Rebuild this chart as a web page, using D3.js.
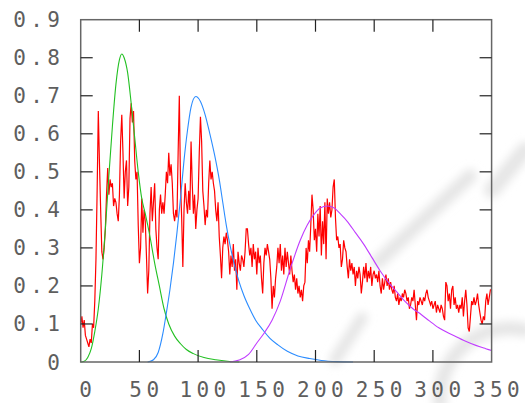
<!DOCTYPE html>
<html>
<head>
<meta charset="utf-8">
<script src="https://cdn.jsdelivr.net/npm/d3@7"></script>
<style>
  body { margin: 0; background: white; }
  .tick-label { font-family: "DejaVu Sans Mono", monospace; font-size: 21px; fill: #5e5e5e; letter-spacing: 4.4px; }
</style>
</head>
<body>
<div id="chart"></div>
<script>
const WIDTH = 525, HEIGHT = 403;
const MARGIN = { TOP: 19.7, BOTTOM: 41, LEFT: 80.7, RIGHT: 33.4 };

const xTicks = [0, 50, 100, 150, 200, 250, 300, 350];
const yTicks = [0, 0.1, 0.2, 0.3, 0.4, 0.5, 0.6, 0.7, 0.8, 0.9];

// measured signal, one value per x = 0..350
const signal = [
  0.10, 0.12, 0.09, 0.11, 0.07, 0.06, 0.05, 0.04, 0.06, 0.05,
  0.10, 0.09, 0.16, 0.27, 0.45, 0.66, 0.52, 0.40, 0.29, 0.27,
  0.30, 0.35, 0.44, 0.51, 0.44, 0.48, 0.46, 0.47, 0.41, 0.43,
  0.42, 0.39, 0.37, 0.44, 0.58, 0.65, 0.55, 0.43, 0.50, 0.53,
  0.41, 0.46, 0.64, 0.68, 0.63, 0.66, 0.53, 0.48, 0.50, 0.36,
  0.26, 0.30, 0.43, 0.34, 0.40, 0.37, 0.28, 0.18, 0.24, 0.39,
  0.46, 0.37, 0.42, 0.47, 0.35, 0.30, 0.27, 0.40, 0.44, 0.39,
  0.42, 0.39, 0.44, 0.50, 0.47, 0.55, 0.49, 0.52, 0.47, 0.39,
  0.37, 0.40, 0.38, 0.55, 0.70, 0.47, 0.38, 0.25, 0.40, 0.47,
  0.42, 0.39, 0.45, 0.40, 0.58, 0.47, 0.39, 0.44, 0.35, 0.40,
  0.43, 0.55, 0.645, 0.58, 0.45, 0.41, 0.36, 0.40, 0.38, 0.47,
  0.53, 0.48, 0.50, 0.47, 0.45, 0.40, 0.37, 0.42, 0.33, 0.28,
  0.22, 0.30, 0.33, 0.31, 0.34, 0.32, 0.29, 0.23, 0.28, 0.25,
  0.31, 0.24, 0.27, 0.19, 0.29, 0.26, 0.24, 0.28, 0.27, 0.25,
  0.29, 0.35, 0.35, 0.31, 0.28, 0.30, 0.25, 0.31, 0.27, 0.29,
  0.23, 0.30, 0.26, 0.28, 0.22, 0.18, 0.26, 0.30, 0.28, 0.31,
  0.29, 0.27, 0.22, 0.14, 0.20, 0.17, 0.22, 0.25, 0.30, 0.26,
  0.31, 0.24, 0.28, 0.23, 0.30, 0.25, 0.29, 0.26, 0.23, 0.28,
  0.24, 0.21, 0.23, 0.19, 0.22, 0.18, 0.20, 0.17, 0.19, 0.16,
  0.20, 0.21, 0.30, 0.26, 0.32, 0.29, 0.36, 0.44, 0.40, 0.32,
  0.35, 0.29, 0.39, 0.33, 0.41, 0.28, 0.37, 0.31, 0.42, 0.27,
  0.43, 0.39, 0.42, 0.38, 0.40, 0.46, 0.48, 0.38, 0.32, 0.33,
  0.30, 0.31, 0.25, 0.27, 0.32, 0.30, 0.29, 0.25, 0.22, 0.27,
  0.24, 0.26, 0.23, 0.25, 0.20, 0.24, 0.22, 0.25, 0.23, 0.18,
  0.21, 0.25, 0.22, 0.26, 0.21, 0.24, 0.22, 0.25, 0.20, 0.23,
  0.24, 0.22, 0.23, 0.21, 0.24, 0.20, 0.18, 0.22, 0.19, 0.21,
  0.23, 0.20, 0.22, 0.19, 0.21, 0.19, 0.18, 0.20, 0.17, 0.16,
  0.18, 0.15, 0.17, 0.16, 0.18, 0.17, 0.19, 0.18, 0.16, 0.17,
  0.14, 0.15, 0.17, 0.16, 0.19, 0.15, 0.11, 0.16, 0.15, 0.17,
  0.16, 0.15, 0.17, 0.16, 0.18, 0.19, 0.17, 0.16, 0.15, 0.16,
  0.14, 0.15, 0.16, 0.13, 0.15, 0.14, 0.13, 0.15, 0.14, 0.12,
  0.11, 0.21, 0.20, 0.16, 0.18, 0.14, 0.19, 0.20, 0.15, 0.17,
  0.14, 0.15, 0.13, 0.15, 0.14, 0.17, 0.12, 0.16, 0.19, 0.15,
  0.09, 0.08, 0.12, 0.16, 0.15, 0.17, 0.15, 0.16, 0.18, 0.15,
  0.13, 0.11, 0.10, 0.12, 0.11, 0.16, 0.18, 0.15, 0.17, 0.19,
  0.19
];

const fitGreen = [
  [0, 0], [3, 0.002], [6, 0.012], [9, 0.035], [12, 0.08], [15, 0.14], [18, 0.23],
  [21, 0.35], [24, 0.49], [27, 0.62], [30, 0.73], [33, 0.795], [35, 0.81], [37, 0.80],
  [40, 0.76], [43, 0.68], [46, 0.59], [49, 0.50], [52, 0.43], [55, 0.39], [59, 0.33],
  [63, 0.26], [67, 0.20], [71, 0.14], [75, 0.10], [80, 0.068], [85, 0.048], [90, 0.033],
  [96, 0.022], [105, 0.012], [115, 0.006], [125, 0.002], [135, 0]
];
const fitBlue = [
  [57, 0], [62, 0.006], [66, 0.025], [70, 0.075], [73, 0.13], [76, 0.19], [79, 0.26],
  [82, 0.34], [85, 0.43], [88, 0.53], [91, 0.61], [94, 0.67], [98, 0.698], [102, 0.685],
  [106, 0.65], [110, 0.60], [114, 0.545], [118, 0.48], [121, 0.42], [124, 0.36], [127, 0.31],
  [131, 0.255], [135, 0.21], [139, 0.175], [144, 0.14], [149, 0.11], [155, 0.085], [161, 0.063],
  [168, 0.045], [176, 0.028], [185, 0.016], [195, 0.009], [205, 0.004], [218, 0.001], [232, 0]
];
const fitPurple = [
  [127, 0], [135, 0.005], [143, 0.02], [150, 0.05], [156, 0.075], [163, 0.11], [170, 0.16],
  [178, 0.24], [187, 0.32], [193, 0.36], [198, 0.385], [204, 0.405], [210, 0.41], [216, 0.405],
  [221, 0.39], [227, 0.37], [234, 0.34], [241, 0.31], [248, 0.275], [255, 0.24], [262, 0.21],
  [269, 0.185], [276, 0.16], [283, 0.14], [290, 0.125], [297, 0.108], [305, 0.09], [312, 0.078],
  [319, 0.068], [326, 0.057], [333, 0.048], [340, 0.04], [345, 0.035], [350, 0.03]
];

const svg = d3.select("#chart")
  .append("svg")
  .attr("width", WIDTH)
  .attr("height", HEIGHT);

// faint publisher watermark behind the plot
const defs = svg.append("defs");
defs.append("filter").attr("id", "soft")
  .append("feGaussianBlur").attr("stdDeviation", 4);
const wm = svg.append("g")
  .attr("filter", "url(#soft)")
  .attr("stroke", "#e6e6e6")
  .attr("fill", "none")
  .attr("stroke-linecap", "round");
wm.append("line").attr("x1", 378).attr("y1", 262).attr("x2", 470).attr("y2", 176).attr("stroke-width", 14);
wm.append("line").attr("x1", 335).attr("y1", 360).attr("x2", 362).attr("y2", 318).attr("stroke-width", 12);
wm.append("line").attr("x1", 492).attr("y1", 190).attr("x2", 525).attr("y2", 150).attr("stroke-width", 16);
wm.append("path").attr("d", "M 440 403 A 70 70 0 0 1 525 330").attr("stroke-width", 14);

const x = d3.scaleLinear().domain([0, 350]).range([MARGIN.LEFT, WIDTH - MARGIN.RIGHT]);
const y = d3.scaleLinear().domain([0, 0.9]).range([HEIGHT - MARGIN.BOTTOM, MARGIN.TOP]);

const x0 = x.range()[0], x1 = x.range()[1];
const y0 = y.range()[0], y1 = y.range()[1];
const TICK = 12;

// tick labels
svg.append("g")
  .selectAll("text")
  .data(xTicks)
  .enter()
  .append("text")
  .attr("class", "tick-label")
  .attr("x", (d) => x(d) + 7)
  .attr("y", y0 + 35)
  .attr("text-anchor", "middle")
  .text((d) => d);

svg.append("g")
  .selectAll("text")
  .data(yTicks)
  .enter()
  .append("text")
  .attr("class", "tick-label")
  .attr("x", 64.4)
  .attr("y", (d) => y(d) + 7.5)
  .attr("text-anchor", "end")
  .text((d) => d3.format(".1f")(d).replace(/^0\.0$/, "0"));

// curves
const line = d3.line()
  .x((d) => x(d[0]))
  .y((d) => y(d[1]));

const smooth = d3.line()
  .x((d) => x(d[0]))
  .y((d) => y(d[1]))
  .curve(d3.curveMonotoneX);

svg.append("path")
  .datum(signal.map((v, i) => [i, v]))
  .attr("d", line)
  .attr("fill", "none")
  .attr("stroke", "#ff0000")
  .attr("stroke-width", 1.2);

[[fitGreen, "#22c022"], [fitBlue, "#2b8cff"], [fitPurple, "#c03cff"]].forEach(([data, color]) => {
  svg.append("path")
    .datum(data)
    .attr("d", smooth)
    .attr("fill", "none")
    .attr("stroke", color)
    .attr("stroke-width", 1.1);
});

// frame and mirrored ticks
svg.append("rect")
  .attr("x", x0)
  .attr("y", y1)
  .attr("width", x1 - x0)
  .attr("height", y0 - y1)
  .attr("fill", "none")
  .attr("stroke", "#666")
  .attr("stroke-width", 1.5);

const ticks = svg.append("g").attr("stroke", "#222").attr("stroke-width", 1.2);
xTicks.slice(1, -1).forEach((d) => {
  ticks.append("line").attr("x1", x(d)).attr("x2", x(d)).attr("y1", y0).attr("y2", y0 - TICK);
  ticks.append("line").attr("x1", x(d)).attr("x2", x(d)).attr("y1", y1).attr("y2", y1 + TICK);
});
yTicks.slice(1, -1).forEach((d) => {
  ticks.append("line").attr("x1", x0).attr("x2", x0 + TICK).attr("y1", y(d)).attr("y2", y(d));
  ticks.append("line").attr("x1", x1).attr("x2", x1 - TICK).attr("y1", y(d)).attr("y2", y(d));
});
</script>
</body>
</html>
